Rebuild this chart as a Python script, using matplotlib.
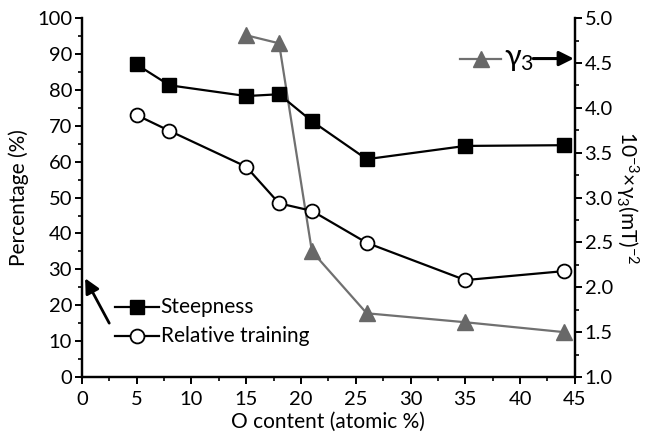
import matplotlib
matplotlib.use('Agg')
import matplotlib.pyplot as plt
from matplotlib.ticker import MultipleLocator

plt.rcParams['font.family'] = ['Lato', 'DejaVu Sans']
plt.rcParams['mathtext.fontset'] = 'custom'
plt.rcParams['mathtext.rm'] = 'Lato'
plt.rcParams['mathtext.it'] = 'Lato'

# data
o_content = [5, 8, 15, 18, 21, 26, 35, 44]
steepness = [87.1, 81.3, 78.3, 78.8, 71.3, 60.7, 64.4, 64.6]
rel_training = [73.0, 68.6, 58.6, 48.4, 46.3, 37.4, 27.0, 29.5]
o_gamma = [15, 18, 21, 26, 35, 44]
gamma3 = [4.81, 4.72, 2.40, 1.71, 1.61, 1.50]

fig = plt.figure(figsize=(6.6, 4.44), dpi=100)
ax = fig.add_axes([0.124, 0.151, 0.747, 0.808])
ax2 = ax.twinx()

grey = '#707070'
ax2.plot(o_gamma, gamma3, '-', color=grey, lw=1.6, marker='^', ms=11,
         mfc='#686868', mec='#686868', zorder=2)
ax.plot(o_content, steepness, '-', color='black', lw=1.6, marker='s', ms=10,
        mfc='black', mec='black', zorder=3)
ax.plot(o_content, rel_training, '-', color='black', lw=1.6, marker='o', ms=10,
        mfc='white', mec='black', mew=1.3, zorder=3)
ax.set_zorder(ax2.get_zorder() + 1)
ax.patch.set_visible(False)

ax.set_xlim(0, 45)
ax.set_ylim(0, 100)
ax2.set_ylim(1.0, 5.0)
ax.xaxis.set_major_locator(MultipleLocator(5))
ax.xaxis.set_minor_locator(MultipleLocator(2.5))
ax.yaxis.set_major_locator(MultipleLocator(10))
ax.yaxis.set_minor_locator(MultipleLocator(5))
ax2.yaxis.set_major_locator(MultipleLocator(0.5))
ax2.yaxis.set_minor_locator(MultipleLocator(0.25))
ax2.yaxis.set_major_formatter(plt.FormatStrFormatter('%.1f'))

for a in (ax, ax2):
    for s in a.spines.values():
        s.set_linewidth(1.6)
    a.tick_params(which='major', length=5, width=1.4, labelsize=14.5, direction='out', pad=2)
    a.tick_params(which='minor', length=3, width=1.2, direction='out')
ax.tick_params(axis='x', pad=5)
ax.spines['top'].set_visible(False)
ax2.spines['top'].set_visible(False)

ax.set_xlabel('O content (atomic %)', fontsize=15, labelpad=3)
ax.set_ylabel('Percentage (%)', fontsize=15, labelpad=6)
ax2.set_ylabel('10$^{-3}$×γ$_3$(mT)$^{-2}$', fontsize=15,
               rotation=270, labelpad=20)

# legend for left axis series
ax.plot([3.0, 7.0], [19.5, 19.5], '-', color='black', lw=1.6, clip_on=False)
ax.plot([5.0], [19.5], 's', color='black', ms=10)
ax.text(7.2, 19.5, 'Steepness', fontsize=15, va='center')
ax.plot([3.0, 7.0], [11.5, 11.5], '-', color='black', lw=1.6)
ax.plot([5.0], [11.5], 'o', mfc='white', mec='black', mew=1.3, ms=10)
ax.text(7.2, 11.5, 'Relative training', fontsize=15, va='center')
ax.annotate('', xy=(0.3, 27.5), xytext=(2.5, 15),
            arrowprops=dict(arrowstyle='-|>', color='black', lw=2,
                            mutation_scale=22, shrinkA=0, shrinkB=0))

# gamma3 legend top right
ax2.plot([34.5, 38.3], [4.55, 4.55], '-', color=grey, lw=1.6)
ax2.plot([36.4], [4.55], '^', color='#686868', ms=11)
ax2.text(38.5, 4.55, 'γ$_3$', fontsize=22, va='center')
ax2.annotate('', xy=(44.9, 4.55), xytext=(41.2, 4.55),
             arrowprops=dict(arrowstyle='-|>', color='black', lw=2.2,
                             mutation_scale=22, shrinkA=0, shrinkB=0))

fig.savefig('out.png', dpi=100)
